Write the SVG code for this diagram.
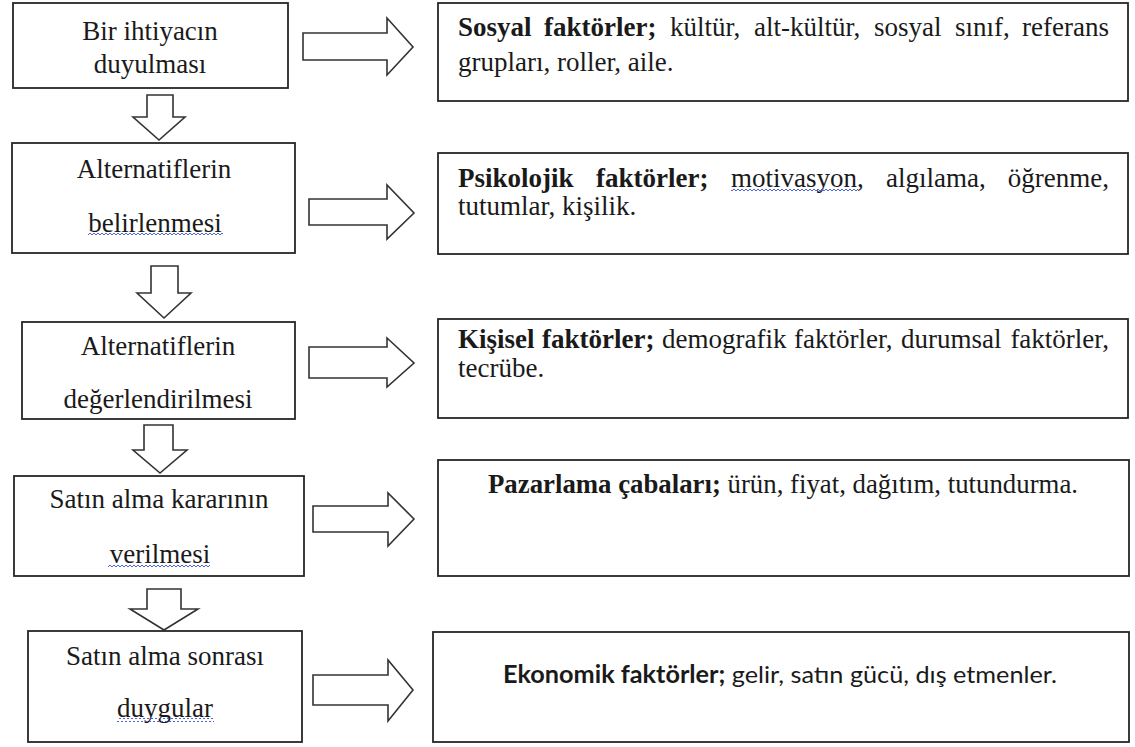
<svg xmlns="http://www.w3.org/2000/svg" width="1135" height="747" viewBox="0 0 1135 747">
<style>
.box{fill:#fff;stroke:#262626;stroke-width:1.8}
.arr{fill:#fff;stroke:#333;stroke-width:1.6;stroke-linejoin:miter}
.t{font-family:'Liberation Serif',Tinos,'DejaVu Serif',serif;font-size:27px;fill:#1a1a1a}
.c{text-anchor:middle}
.b{font-weight:bold}
.e{text-anchor:end}
.cal{font-family:Lato,'Open Sans',sans-serif;font-size:24px;fill:#1a1a1a}
</style>
<defs>
<pattern id="sq" width="4" height="4" patternUnits="userSpaceOnUse">
<path d="M0,3 L2,1 L4,3" fill="none" stroke="#3b4fd8" stroke-width="0.9"/>
</pattern>
</defs>
<rect width="1135" height="747" fill="#fff"/>

<g id="connectors">
<polygon class="arr" points="147,95 173,95 173,117 185,117 159,140 133,117 147,117"/>
<polygon class="arr" points="151,266 178,266 178,293 191,293 164,318 137,293 151,293"/>
<polygon class="arr" points="144,425 173,425 173,450 187,450 160,473 133,450 144,450"/>
<polygon class="arr" points="147,589 181,589 181,609 198,609 164,630 130,609 147,609"/>
<polygon class="arr" points="303,33 387,33 387,18 413,47 387,75 387,60 303,60"/>
<polygon class="arr" points="309,199 387,199 387,185 414,213 387,239 387,225 309,225"/>
<polygon class="arr" points="309,347 387,347 387,338 414,363 387,387 387,378 309,378"/>
<polygon class="arr" points="313,506 388,506 388,493 414,519 388,546 388,532 313,532"/>
<polygon class="arr" points="313,675 388,675 388,660 413,690 388,721 388,705 313,705"/>
</g>

<g id="step1">
<rect class="box" x="13" y="3" width="275" height="85"/>
<text class="t c" x="150" y="40">Bir ihtiyacın</text>
<text class="t c" x="150" y="73">duyulması</text>
</g>
<g id="step2">
<rect class="box" x="12" y="143" width="283" height="110"/>
<text class="t c" x="154" y="178">Alternatiflerin</text>
<text class="t c" x="155" y="232">belirlenmesi</text>
<rect x="88" y="233" width="135" height="4" fill="url(#sq)"/>
</g>
<g id="step3">
<rect class="box" x="22" y="322" width="273" height="97"/>
<text class="t c" x="158" y="355">Alternatiflerin</text>
<text class="t c" x="158" y="408">değerlendirilmesi</text>
</g>
<g id="step4">
<rect class="box" x="14" y="476" width="290" height="100"/>
<text class="t c" x="159" y="508">Satın alma kararının</text>
<text class="t c" x="160" y="563">verilmesi</text>
<rect x="108" y="563" width="102" height="4" fill="url(#sq)"/>
</g>
<g id="step5">
<rect class="box" x="28" y="631" width="274" height="111"/>
<text class="t c" x="165" y="665">Satın alma sonrası</text>
<text class="t c" x="165" y="717">duygular</text>
<rect x="117" y="718" width="97" height="4" fill="url(#sq)"/>
</g>

<g id="social">
<rect class="box" x="438" y="3" width="690" height="98"/>
<text class="t b" x="458" y="36">Sosyal</text>
<text class="t b" x="544" y="36">faktörler;</text>
<text class="t" x="670" y="36">kültür,</text>
<text class="t" x="754" y="36">alt-kültür,</text>
<text class="t" x="874" y="36">sosyal</text>
<text class="t" x="955" y="36">sınıf,</text>
<text class="t e" x="1109" y="36">referans</text>
<text class="t" x="458" y="71">grupları, roller, aile.</text>
</g>
<g id="psych">
<rect class="box" x="438" y="153" width="690" height="101"/>
<text class="t b" x="458" y="187">Psikolojik</text>
<text class="t b" x="596" y="187">faktörler;</text>
<text class="t" x="731" y="187">motivasyon,</text>
<text class="t" x="886" y="187">algılama,</text>
<text class="t e" x="1109" y="187">öğrenme,</text>
<rect x="731" y="189" width="127" height="4" fill="url(#sq)"/>
<text class="t" x="458" y="215">tutumlar, kişilik.</text>
</g>
<g id="personal">
<rect class="box" x="438" y="319" width="690" height="99"/>
<text class="t b" x="458" y="348">Kişisel</text>
<text class="t b" x="542" y="348">faktörler;</text>
<text class="t" x="662" y="348">demografik</text>
<text class="t" x="794" y="348">faktörler,</text>
<text class="t" x="901" y="348">durumsal</text>
<text class="t e" x="1109" y="348">faktörler,</text>
<text class="t" x="458" y="377">tecrübe.</text>
</g>
<g id="marketing">
<rect class="box" x="438" y="460" width="691" height="116"/>
<text class="t" x="488" y="493" textLength="590" lengthAdjust="spacingAndGlyphs"><tspan class="b">Pazarlama çabaları;</tspan> ürün, fiyat, dağıtım, tutundurma.</text>
</g>
<g id="economic">
<rect class="box" x="433" y="632" width="696" height="110"/>
<text class="cal" x="503" y="683" textLength="554" lengthAdjust="spacingAndGlyphs"><tspan font-weight="bold">Ekonomik faktörler;</tspan> gelir, satın gücü, dış etmenler.</text>
</g>
</svg>
